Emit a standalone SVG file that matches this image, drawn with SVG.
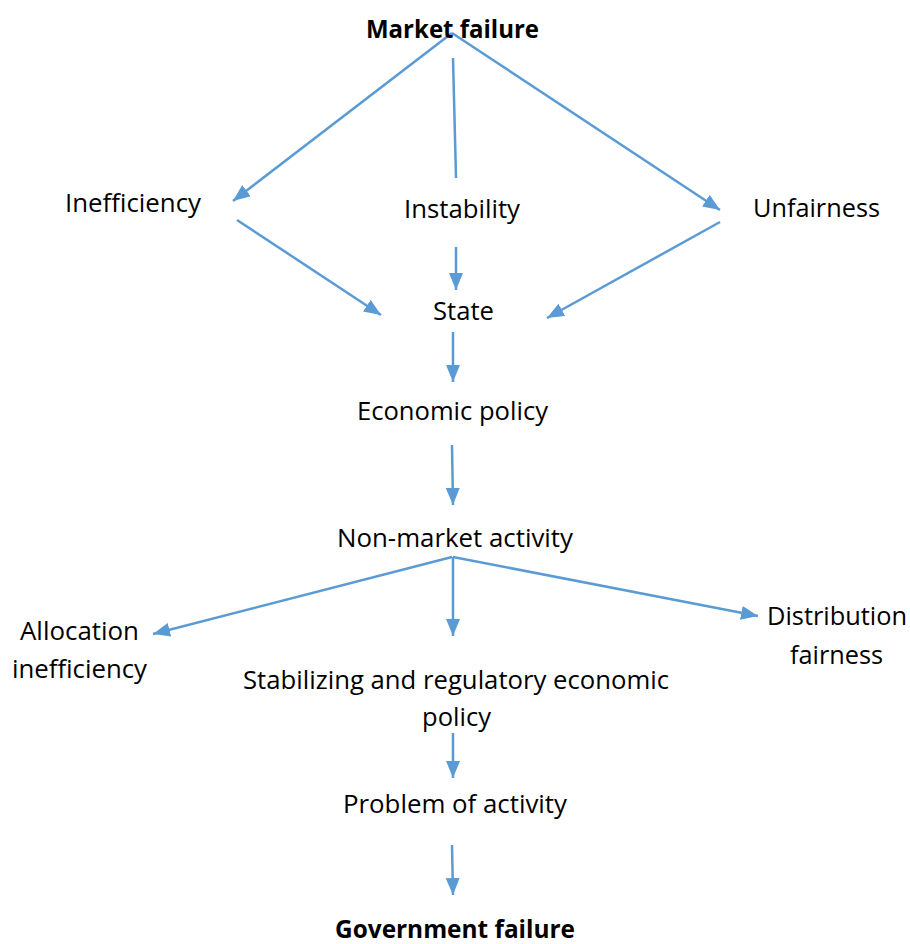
<svg xmlns="http://www.w3.org/2000/svg" width="910" height="944" viewBox="0 0 910 944">
  <style>
    .lbl { font-family: "Open Sans", "Liberation Sans", sans-serif; font-size: 25px; fill: #000; text-anchor: middle; }
    .bold { font-weight: bold; }
    .edge { stroke: #5B9BD5; stroke-width: 2.5; fill: none; }
    .arrow { marker-end: url(#head); }
  </style>
  <defs>
    <marker id="head" markerUnits="userSpaceOnUse" markerWidth="18" markerHeight="15" refX="17" refY="7" orient="auto">
      <path d="M0,0 L17,7 L0,14 z" fill="#5B9BD5"/>
    </marker>
  </defs>
  <rect width="910" height="944" fill="#fff"/>

  <g id="connectors">
    <line class="edge arrow" x1="452" y1="33" x2="233" y2="201"/>
    <line class="edge" x1="453" y1="58" x2="456" y2="178"/>
    <line class="edge arrow" x1="452" y1="33" x2="720" y2="210"/>
    <line class="edge arrow" x1="237" y1="220" x2="381" y2="315"/>
    <line class="edge arrow" x1="456" y1="247" x2="456" y2="290"/>
    <line class="edge arrow" x1="720" y1="222" x2="547" y2="318"/>
    <line class="edge arrow" x1="453" y1="332" x2="453" y2="382"/>
    <line class="edge arrow" x1="452" y1="445" x2="453" y2="505"/>
    <line class="edge arrow" x1="452" y1="557" x2="153" y2="634"/>
    <line class="edge arrow" x1="453" y1="557" x2="453" y2="636"/>
    <line class="edge arrow" x1="453" y1="557" x2="758" y2="616"/>
    <line class="edge arrow" x1="453" y1="733" x2="453" y2="778"/>
    <line class="edge arrow" x1="452" y1="845" x2="453" y2="895"/>
  </g>

  <g id="market-failure"><text class="lbl bold" x="452.5" y="38" textLength="173" lengthAdjust="spacingAndGlyphs">Market failure</text></g>
  <g id="inefficiency"><text class="lbl" x="133" y="212" textLength="136" lengthAdjust="spacingAndGlyphs">Inefficiency</text></g>
  <g id="instability"><text class="lbl" x="462" y="218" textLength="116" lengthAdjust="spacingAndGlyphs">Instability</text></g>
  <g id="unfairness"><text class="lbl" x="816.5" y="217" textLength="127" lengthAdjust="spacingAndGlyphs">Unfairness</text></g>
  <g id="state"><text class="lbl" x="463.5" y="320" textLength="61" lengthAdjust="spacingAndGlyphs">State</text></g>
  <g id="economic-policy"><text class="lbl" x="452.5" y="420" textLength="191" lengthAdjust="spacingAndGlyphs">Economic policy</text></g>
  <g id="non-market-activity"><text class="lbl" x="455" y="547" textLength="236" lengthAdjust="spacingAndGlyphs">Non-market activity</text></g>
  <g id="allocation-inefficiency">
    <text class="lbl" x="79.5" y="640" textLength="119" lengthAdjust="spacingAndGlyphs">Allocation</text>
    <text class="lbl" x="79.5" y="678" textLength="135" lengthAdjust="spacingAndGlyphs">inefficiency</text>
  </g>
  <g id="distribution-fairness">
    <text class="lbl" x="837" y="625" textLength="140" lengthAdjust="spacingAndGlyphs">Distribution</text>
    <text class="lbl" x="836.5" y="664" textLength="93" lengthAdjust="spacingAndGlyphs">fairness</text>
  </g>
  <g id="stabilizing-policy">
    <text class="lbl" x="456" y="689" textLength="426" lengthAdjust="spacingAndGlyphs">Stabilizing and regulatory economic</text>
    <text class="lbl" x="456.5" y="726" textLength="69" lengthAdjust="spacingAndGlyphs">policy</text>
  </g>
  <g id="problem-of-activity"><text class="lbl" x="455" y="813" textLength="224" lengthAdjust="spacingAndGlyphs">Problem of activity</text></g>
  <g id="government-failure"><text class="lbl bold" x="455" y="938" textLength="240" lengthAdjust="spacingAndGlyphs">Government failure</text></g>
</svg>
